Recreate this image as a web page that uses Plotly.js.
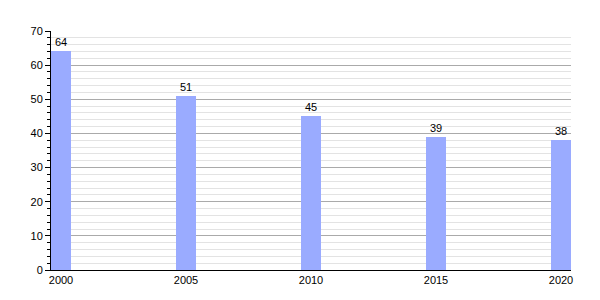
<!DOCTYPE html>
<html><head><meta charset="utf-8">
<script src="https://cdn.plot.ly/plotly-3.0.1.min.js"></script>
<style>body{margin:0;background:#fff}#c{width:600px;height:300px}</style>
</head><body><div id="c"></div>
<script>
const years = [2000, 2005, 2010, 2015, 2020];
const values = [64, 51, 45, 39, 38];
const yTicks = [0, 10, 20, 30, 40, 50, 60, 70];

Plotly.newPlot('c', [{
  type: 'bar', x: years, y: values, width: 0.8,
  marker: {color: '#9aabff'},
  text: values.map(String), textposition: 'outside', cliponaxis: false,
  textfont: {family: 'Liberation Sans, Arial, sans-serif', size: 11, color: '#000'},
  hoverinfo: 'none'
}], {
  width: 600, height: 300,
  margin: {l: 51, r: 29, t: 31, b: 30},
  paper_bgcolor: '#fff', plot_bgcolor: '#fff',
  showlegend: false,
  font: {family: 'Liberation Sans, Arial, sans-serif', size: 11, color: '#000'},
  xaxis: {
    range: [1999.6, 2020.4], tickvals: years, ticktext: years.map(String),
    showgrid: false, zeroline: false, showline: true, linecolor: '#000', linewidth: 1,
    ticks: '', tickfont: {size: 11, color: '#000', family: 'Liberation Sans, Arial, sans-serif'}
  },
  yaxis: {
    range: [0, 70], tickvals: yTicks, showgrid: true, gridcolor: '#aaaaaa', gridwidth: 1,
    zeroline: false, showline: true, linecolor: '#000', linewidth: 1,
    ticks: 'outside', ticklen: 5, tickcolor: '#000',
    tickfont: {size: 11, color: '#000', family: 'Liberation Sans, Arial, sans-serif'},
    minor: {dtick: 2, showgrid: true, gridcolor: '#e3e3e3', gridwidth: 1, ticks: 'outside', ticklen: 3, tickcolor: '#000'}
  },
  bargap: 0
}, {staticPlot: true});
</script></body></html>
